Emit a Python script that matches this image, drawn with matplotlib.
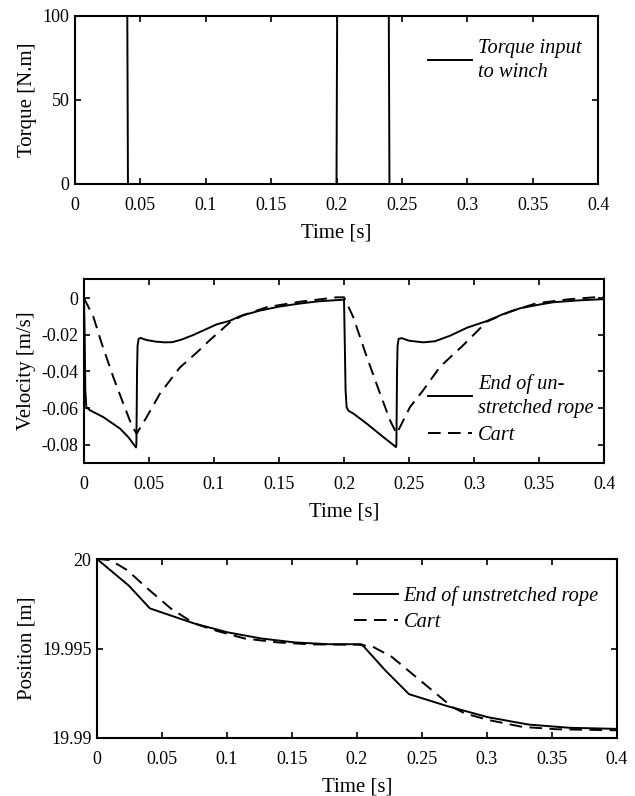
import matplotlib
matplotlib.use("Agg")
import matplotlib.pyplot as plt

plt.rcParams['font.family'] = ['Liberation Serif', 'DejaVu Serif']
plt.rcParams['axes.unicode_minus'] = False
plt.rcParams['mathtext.fontset'] = 'stix'

# ---------------- data ----------------
torque_t = [0, 0.04, 0.0405, 0.2, 0.2005, 0.24, 0.2405, 0.4]
torque_v = [100, 100, 0, 0, 100, 100, 0, 0]

rope_vel_t = [0, 0.0005, 0.001, 0.0018, 0.0046, 0.0148, 0.0277, 0.034, 0.0400,
              0.0403, 0.0408, 0.0412, 0.0420, 0.0435, 0.048, 0.055, 0.062, 0.068,
              0.075, 0.084, 0.093, 0.102, 0.1123, 0.12, 0.135, 0.15, 0.165, 0.18,
              0.1995,
              0.2, 0.2005, 0.2012, 0.2020, 0.2035, 0.2072, 0.2175, 0.2302, 0.2400,
              0.2403, 0.2408, 0.2412, 0.2420, 0.2444, 0.25, 0.261, 0.27, 0.2815,
              0.295, 0.3098, 0.322, 0.3354, 0.35, 0.361, 0.38, 0.4]
rope_vel = [0, -0.02, -0.05, -0.0595, -0.0612, -0.0649, -0.0712, -0.0758, -0.0815,
            -0.08, -0.04, -0.026, -0.0222, -0.0217, -0.0228, -0.0237, -0.0241, -0.0240,
            -0.0226, -0.0201, -0.0172, -0.0143, -0.0123, -0.0098, -0.0068, -0.0046, -0.003, -0.0017,
            -0.0008,
            -0.0008, -0.02, -0.05, -0.0595, -0.0615, -0.063, -0.0685, -0.0758, -0.0813,
            -0.08, -0.04, -0.026, -0.0222, -0.0218, -0.0232, -0.0241, -0.0235, -0.0205,
            -0.016, -0.0125, -0.0088, -0.0055, -0.0035, -0.0022, -0.0012, -0.0005]

cart_vel_t = [0, 0.0072, 0.0136, 0.0225, 0.0302, 0.0367, 0.0405, 0.0482, 0.0585,
              0.0738, 0.087, 0.0969, 0.1046, 0.1125, 0.1226, 0.1405, 0.1662, 0.1944, 0.2,
              0.207, 0.2175, 0.2277, 0.2354, 0.2405, 0.2508, 0.261, 0.2738, 0.2918,
              0.3098, 0.3277, 0.3482, 0.3738, 0.4]
cart_vel = [0, -0.0101, -0.0247, -0.043, -0.0575, -0.0694, -0.074, -0.0649, -0.052,
            -0.0378, -0.0295, -0.0228, -0.018, -0.013, -0.0092, -0.0049, -0.0019, 0.0005, 0.0005,
            -0.0101, -0.032, -0.052, -0.0667, -0.074, -0.0594, -0.0502, -0.0375, -0.0256,
            -0.0128, -0.0073, -0.0027, -0.0005, 0.0009]

rope_pos_t = [0, 0.0245, 0.0407, 0.0747, 0.1006, 0.1263, 0.152, 0.1778, 0.2036,
              0.2216, 0.24, 0.2695, 0.3008, 0.3321, 0.3635, 0.4]
rope_pos = [20, 19.99851, 19.99724, 19.9964, 19.9959, 19.99556, 19.99534, 19.99524,
            19.99524, 19.99379, 19.99245, 19.99178, 19.99116, 19.99075, 19.99057, 19.99051]

cart_pos_t = [0, 0.0103, 0.0232, 0.0387, 0.0567, 0.0747, 0.0928, 0.1134, 0.139, 0.165,
              0.201, 0.2114, 0.2268, 0.2422, 0.2577, 0.2732, 0.2835, 0.3015, 0.3273,
              0.353, 0.4]
cart_pos = [20, 19.99994, 19.99938, 19.99836, 19.99724, 19.9964, 19.99597, 19.99556,
            19.99534, 19.99523, 19.99521, 19.99513, 19.99453, 19.9936, 19.99267,
            19.99173, 19.99136, 19.991, 19.99062, 19.99049, 19.99043]

xticks = [0, 0.05, 0.1, 0.15, 0.2, 0.25, 0.3, 0.35, 0.4]
xtick_labels = ['0', '0.05', '0.1', '0.15', '0.2', '0.25', '0.3', '0.35', '0.4']
torque_ticks = [0, 50, 100]
torque_tick_labels = ['0', '50', '100']
vel_ticks = [-0.08, -0.06, -0.04, -0.02, 0]
vel_tick_labels = ['-0.08', '-0.06', '-0.04', '-0.02', '0']
pos_ticks = [19.99, 19.995, 20]
pos_tick_labels = ['19.99', '19.995', '20']

# ---------------- figure ----------------
W, H = 635, 796
fig = plt.figure(figsize=(W / 100, H / 100), dpi=100)


def px_axes(l, t, r, b):
    return fig.add_axes([l / W, 1 - b / H, (r - l) / W, (b - t) / H])


LW = 1.4
DASH = (6.5, 3.8)
TICK_FS = 13
LAB_FS = 15
LEG_FS = 14.7


def style(ax):
    for s in ax.spines.values():
        s.set_linewidth(1.5)
    ax.tick_params(direction='in', length=4, width=1.2, top=True, right=True,
                   labelsize=TICK_FS)
    ax.tick_params(axis='x', pad=9.5)
    ax.tick_params(axis='y', pad=4)
    ax.set_xlim(0, 0.4)
    ax.set_xticks(xticks)
    ax.set_xticklabels(xtick_labels)
    ax.set_xlabel('Time [s]', fontsize=LAB_FS, labelpad=6.5)


def add_legend(ax, anchor, spacing):
    leg = ax.legend(loc='upper left', bbox_to_anchor=anchor, frameon=False,
                    prop={'style': 'italic', 'size': LEG_FS}, borderpad=0,
                    borderaxespad=0, handlelength=2.15, handletextpad=0.3,
                    labelspacing=spacing)
    for t in leg.get_texts():
        t.set_linespacing(1.4)
    return leg


ax1 = px_axes(75, 16, 598, 184)
ax1.plot(torque_t, torque_v, color='black', lw=LW, label='Torque input\nto winch')
style(ax1)
ax1.set_ylim(0, 100)
ax1.set_yticks(torque_ticks)
ax1.set_yticklabels(torque_tick_labels)
ax1.set_ylabel('Torque [N.m]', fontsize=LAB_FS)
add_legend(ax1, (0.675, 0.865), 0.3)

ax2 = px_axes(84, 279, 604, 463)
ax2.plot(rope_vel_t, rope_vel, color='black', lw=LW, label='End of un-\nstretched rope')
ax2.plot(cart_vel_t, cart_vel, color='black', lw=LW, ls='--', dashes=DASH, label='Cart')
style(ax2)
ax2.set_ylim(-0.09, 0.0105)
ax2.set_yticks(vel_ticks)
ax2.set_yticklabels(vel_tick_labels)
ax2.set_ylabel('Velocity [m/s]', fontsize=LAB_FS)
add_legend(ax2, (0.6615, 0.485), 0.35)

ax3 = px_axes(97, 559, 617, 738)
ax3.plot(rope_pos_t, rope_pos, color='black', lw=LW, label='End of unstretched rope')
ax3.plot(cart_pos_t, cart_pos, color='black', lw=LW, ls='--', dashes=DASH, label='Cart')
style(ax3)
ax3.set_ylim(19.99, 20)
ax3.set_yticks(pos_ticks)
ax3.set_yticklabels(pos_tick_labels)
ax3.set_ylabel('Position [m]', fontsize=LAB_FS)
add_legend(ax3, (0.4935, 0.85), 0.34)

fig.savefig('out.png', dpi=100)
